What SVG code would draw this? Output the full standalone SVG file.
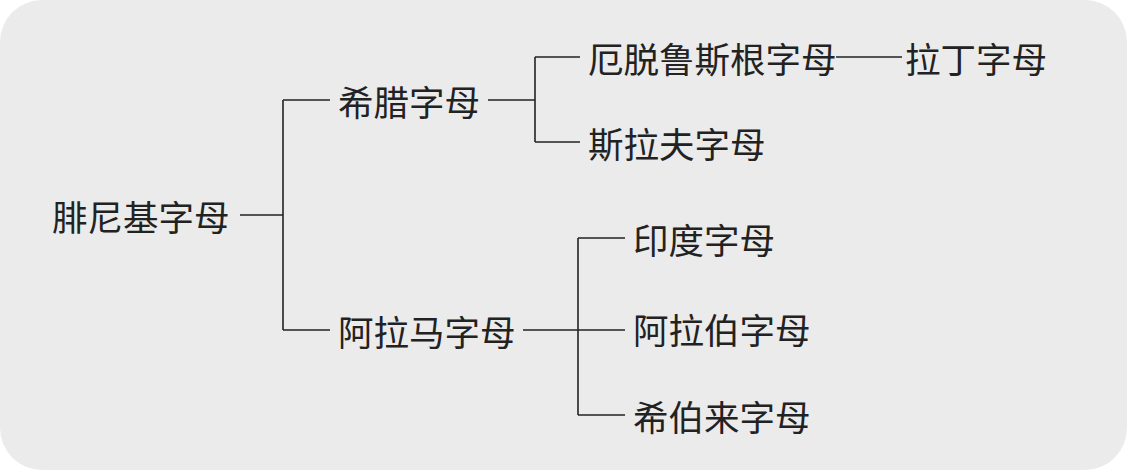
<svg xmlns="http://www.w3.org/2000/svg" width="1127" height="470" viewBox="0 0 1127 470">
<style>
text{font-family:"Noto Sans CJK SC","Noto Sans",sans-serif;font-size:35.5px;fill:#222;dominant-baseline:central}
.c line{stroke:#222;stroke-width:1.6}
</style>
<rect x="0" y="0" width="1127" height="470" rx="42" fill="#ebebeb"/>
<g class="c" id="connectors">
<line x1="240" y1="215" x2="283" y2="215"/>
<line x1="283" y1="100" x2="283" y2="330"/>
<line x1="283" y1="100" x2="330" y2="100"/>
<line x1="283" y1="330" x2="330" y2="330"/>
<line x1="488" y1="100" x2="535" y2="100"/>
<line x1="535" y1="57" x2="535" y2="142"/>
<line x1="535" y1="57" x2="580" y2="57"/>
<line x1="535" y1="142" x2="580" y2="142"/>
<line x1="836" y1="57" x2="902" y2="57"/>
<line x1="523" y1="330" x2="625" y2="330"/>
<line x1="578" y1="238" x2="578" y2="415"/>
<line x1="578" y1="238" x2="625" y2="238"/>
<line x1="578" y1="415" x2="625" y2="415"/>
</g>
<g id="n1"><text x="52" y="215">腓尼基字母</text></g>
<g id="n2"><text x="338" y="100">希腊字母</text></g>
<g id="n3"><text x="338" y="330">阿拉马字母</text></g>
<g id="n4"><text x="588" y="57">厄脱鲁斯根字母</text></g>
<g id="n5"><text x="905" y="57">拉丁字母</text></g>
<g id="n6"><text x="588" y="142">斯拉夫字母</text></g>
<g id="n7"><text x="633" y="238">印度字母</text></g>
<g id="n8"><text x="633" y="328">阿拉伯字母</text></g>
<g id="n9"><text x="633" y="415">希伯来字母</text></g>
</svg>
